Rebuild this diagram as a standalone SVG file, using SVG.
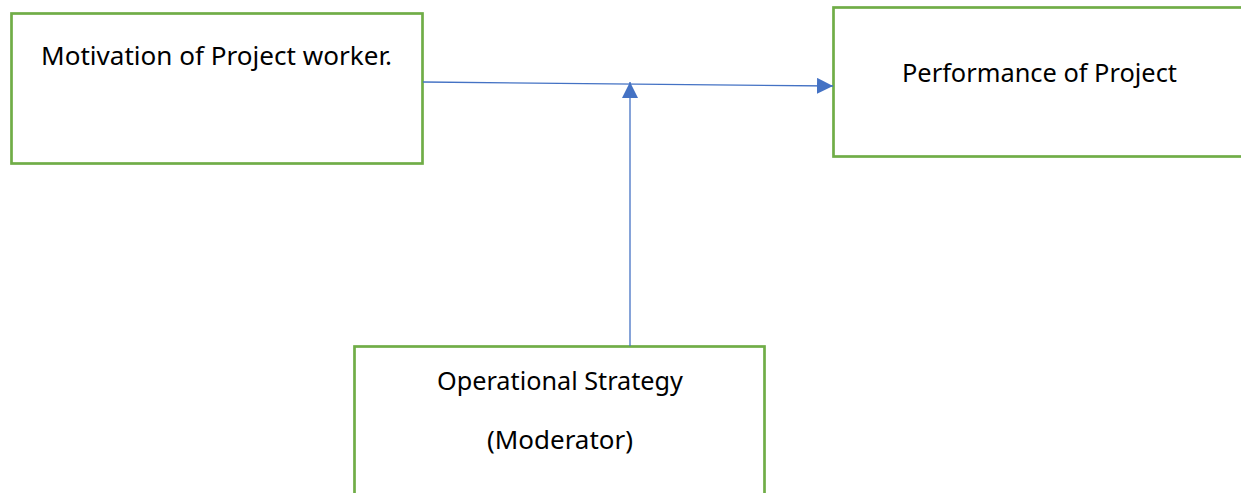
<svg xmlns="http://www.w3.org/2000/svg" width="1241" height="493" viewBox="0 0 1241 493">
<style>
.box{fill:#fff;stroke:#70AD47;stroke-width:2.7}
.lbl{font-family:"Noto Sans","Open Sans",sans-serif;font-size:25.5px;fill:#000}
.con{stroke:#4472C4;stroke-width:1.3;fill:none}
</style>
<defs>
<marker id="ah2" markerWidth="16" markerHeight="16" refX="16" refY="8" orient="auto" markerUnits="userSpaceOnUse" viewBox="0 0 16 16">
<path d="M0,0 L16,8 L0,16 Z" fill="#4472C4"/>
</marker>
</defs>
<rect width="1241" height="493" fill="#fff"/>
<g id="motivation">
<rect class="box" x="11.5" y="13.5" width="411" height="150"/>
<text class="lbl" x="41" y="65" textLength="351" lengthAdjust="spacingAndGlyphs">Motivation of Project worker.</text>
</g>
<g id="performance">
<rect class="box" x="833.5" y="7.5" width="420" height="149"/>
<text class="lbl" x="902" y="82" textLength="275" lengthAdjust="spacingAndGlyphs">Performance of Project</text>
</g>
<g id="strategy">
<rect class="box" x="354.5" y="346.5" width="410" height="160"/>
<text class="lbl" x="437" y="390" textLength="246" lengthAdjust="spacingAndGlyphs">Operational Strategy</text>
<text class="lbl" x="487" y="449" textLength="146" lengthAdjust="spacingAndGlyphs">(Moderator)</text>
</g>
<g id="connectors">
<line class="con" x1="423" y1="82" x2="833" y2="86" marker-end="url(#ah2)"/>
<line class="con" x1="630" y1="346" x2="630" y2="82" marker-end="url(#ah2)"/>
</g>
</svg>
